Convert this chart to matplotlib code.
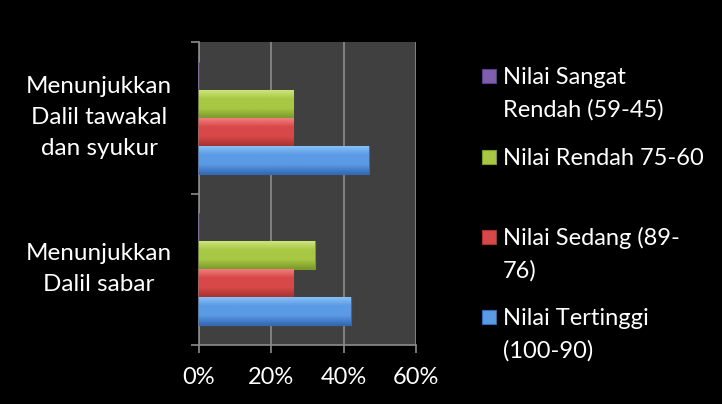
import numpy as np
import matplotlib.pyplot as plt
from matplotlib.patches import Rectangle
import matplotlib.colors as mcolors

plt.rcParams['font.family'] = ['Lato', 'DejaVu Sans']

categories = ['Menunjukkan\nDalil sabar', 'Menunjukkan\nDalil tawakal\ndan syukur']
series = ['Nilai Tertinggi\n(100-90)', 'Nilai Sedang (89-\n76)',
          'Nilai Rendah 75-60', 'Nilai Sangat\nRendah (59-45)']
tertinggi = [42, 47]
sedang = [26, 26]
rendah = [32, 26]
sangat_rendah = [0, 0]
x_ticks = [0, 20, 40, 60]
x_labels = ['0%', '20%', '40%', '60%']

values = [tertinggi, sedang, rendah, sangat_rendah]
colors = [('#3569b4', '#5b9be6', '#8cc4f7'),
          ('#a83232', '#d84848', '#f48484'),
          ('#7c9a2a', '#a8c844', '#d0e882'),
          ('#5a3f86', '#7d5fae', '#a98ad0')]

fig = plt.figure(figsize=(7.22, 4.04), dpi=100, facecolor='black')
ax = fig.add_axes([199 / 722, 1 - 345 / 404, 217 / 722, 303 / 404])
ax.set_facecolor('#404040')

h = 0.185
y = np.arange(len(categories))
grad = np.linspace(0, 1, 64).reshape(-1, 1)
for i, (vals, (dark, mid, light)) in enumerate(zip(values, colors)):
    cmap = mcolors.LinearSegmentedColormap.from_list(
        's%d' % i, [dark, mid, mid, light])
    bars = ax.barh(y + (i - 1.5) * h, vals, height=h, color=mid,
                   edgecolor=dark, linewidth=0.8, zorder=3)
    for b in bars:
        if b.get_width() <= 0:
            continue
        x0, y0 = b.get_x(), b.get_y()
        im = ax.imshow(grad, cmap=cmap, aspect='auto', origin='lower',
                       extent=[x0, x0 + b.get_width(), y0, y0 + b.get_height()],
                       zorder=3.5)
        im.set_clip_path(b)

ax.set_xlim(0, 60)
ax.set_ylim(-0.5, 1.5)
ax.set_xticks(x_ticks)
ax.set_xticklabels(x_labels)
ax.xaxis.grid(True, color='#8c8c8c', linewidth=1.2, zorder=1)
ax.set_axisbelow(True)
ax.set_yticks([-0.5, 0.5, 1.5])
ax.set_yticklabels([])
ax.tick_params(axis='x', colors='#8c8c8c', length=6, width=1.2,
               labelcolor='white', labelsize=17, pad=10)
ax.tick_params(axis='y', colors='#8c8c8c', length=6, width=1.2)
for s in ['top', 'right']:
    ax.spines[s].set_visible(False)
for s in ['left', 'bottom']:
    ax.spines[s].set_color('#8c8c8c')
    ax.spines[s].set_linewidth(1.2)

for yi, lab in zip(y, categories):
    ax.text(-0.46, yi, lab, transform=ax.get_yaxis_transform(),
            ha='center', va='center', multialignment='center',
            color='white', fontsize=17.5, linespacing=1.6)

# legend, drawn by hand to keep Excel's uneven spacing
marker_y = [317, 237, 157, 76]
for lab, (dark, mid, light), my in zip(series, colors, marker_y):
    fig.patches.append(Rectangle((482 / 722, 1 - (my + 7) / 404),
                                 14 / 722, 14 / 404, transform=fig.transFigure,
                                 facecolor=mid, edgecolor=dark, linewidth=0.8))
    for k, line in enumerate(lab.split('\n')):
        fig.text(503 / 722, 1 - (my + 8 + 33 * k) / 404, line, ha='left',
                 va='baseline', color='white', fontsize=17)

fig.savefig('out.png', dpi=100, facecolor='black')
